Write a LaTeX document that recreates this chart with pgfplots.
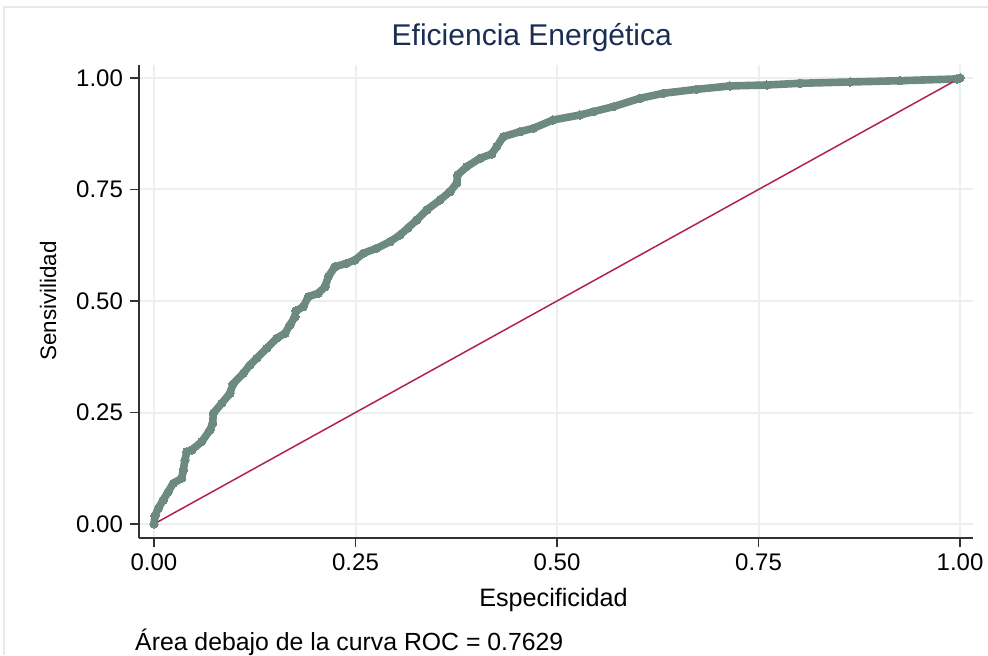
\documentclass[border=0pt]{standalone}
\usepackage{fontspec}
\setmainfont{Liberation Sans}
\usepackage{pgfplots}
\usepackage{pgfplotstable}
\pgfplotsset{compat=1.18}

\definecolor{rocc}{RGB}{108,139,126}
\definecolor{refc}{RGB}{176,36,76}
\definecolor{gridc}{RGB}{233,239,242}
\definecolor{axisc}{RGB}{50,50,50}
\definecolor{titlec}{RGB}{26,46,84}
\definecolor{framec}{RGB}{228,235,240}

% ROC curve: 1-specificity (x) against sensitivity (y)
\pgfplotstableread{
x y
0.0000 0.0000
0.0012 0.0180
0.0053 0.0352
0.0115 0.0538
0.0174 0.0717
0.0239 0.0913
0.0344 0.1025
0.0364 0.1211
0.0385 0.1435
0.0406 0.1621
0.0468 0.1659
0.0592 0.1845
0.0695 0.2108
0.0728 0.2258
0.0736 0.2482
0.0840 0.2706
0.0943 0.2930
0.0980 0.3139
0.1108 0.3379
0.1191 0.3565
0.1274 0.3715
0.1398 0.3939
0.1522 0.4164
0.1625 0.4276
0.1687 0.4462
0.1749 0.4648
0.1760 0.4776
0.1852 0.4872
0.1914 0.5096
0.2038 0.5173
0.2122 0.5321
0.2163 0.5545
0.2246 0.5769
0.2391 0.5845
0.2494 0.5919
0.2597 0.6070
0.2763 0.6182
0.2928 0.6330
0.3052 0.6480
0.3151 0.6637
0.3259 0.6816
0.3383 0.7040
0.3548 0.7265
0.3672 0.7451
0.3756 0.7639
0.3766 0.7825
0.3880 0.8011
0.4045 0.8200
0.4190 0.8296
0.4252 0.8460
0.4334 0.8684
0.4541 0.8796
0.4706 0.8872
0.4950 0.9058
0.5285 0.9170
0.5450 0.9244
0.5699 0.9357
0.6030 0.9545
0.6319 0.9657
0.6733 0.9746
0.7146 0.9821
0.7602 0.9843
0.8015 0.9881
0.8635 0.9910
0.9256 0.9939
0.9959 0.9978
1.0000 1.0000
}\roctable

\begin{document}
\begin{tikzpicture}
\path[use as bounding box, fill=white] (0,0) rectangle (494pt,327.5pt);
\draw[framec, line width=1pt] (2pt,0) -- (2pt,324pt) -- (494pt,324pt);
\begin{axis}[
  at={(69.5pt,58.5pt)}, anchor=south west,
  scale only axis, width=417pt, height=236.5pt,
  xmin=-0.0186, xmax=1.0161, ymin=-0.0314, ymax=1.0291,
  axis x line*=bottom, axis y line*=left,
  axis line style={draw=axisc, line width=0.8pt, -},
  xtick={0,0.25,0.5,0.75,1}, ytick={0,0.25,0.5,0.75,1},
  minor tick num=0,
  tick align=outside, major tick length=4.5pt,
  tick style={draw=axisc, line width=0.8pt},
  xmajorgrids, ymajorgrids,
  grid style={draw=gridc, line width=1pt},
  /pgf/number format/.cd, fixed, fixed zerofill, precision=2, assume math mode=true,
  /pgfplots/.cd,
  ticklabel style={font=\fontsize{12}{14}\selectfont, text=black},
  xlabel={Especificidad}, ylabel={Sensivilidad},
  xlabel style={at={(axis description cs:0.497,-0.131)}, anchor=center,
    font=\fontsize{12.6}{14}\selectfont, text=black},
  ylabel style={at={(axis description cs:-0.109,0.501)}, anchor=center, rotate=0,
    font=\fontsize{11.2}{13}\selectfont, text=black},
  clip=false,
]
\addplot[rocc, line width=3.8pt, line join=round, line cap=round,
  mark=*, mark size=2.1pt, mark options={fill=rocc, draw=rocc, line width=0pt}]
  table[x=x, y=y] {\roctable};
\addplot[refc, line width=0.75pt] coordinates {(0,0) (1,1)};
% title and note
\node[anchor=center, font=\fontsize{15}{17}\selectfont, text=titlec]
  at (axis description cs:0.471,1.057) {Eficiencia Energética};
\node[anchor=west, inner sep=0pt, font=\fontsize{12.4}{14}\selectfont, text=black]
  at (axis description cs:-0.005,-0.22) {Área debajo de la curva ROC = 0.7629};
\end{axis}
\end{tikzpicture}
\end{document}
